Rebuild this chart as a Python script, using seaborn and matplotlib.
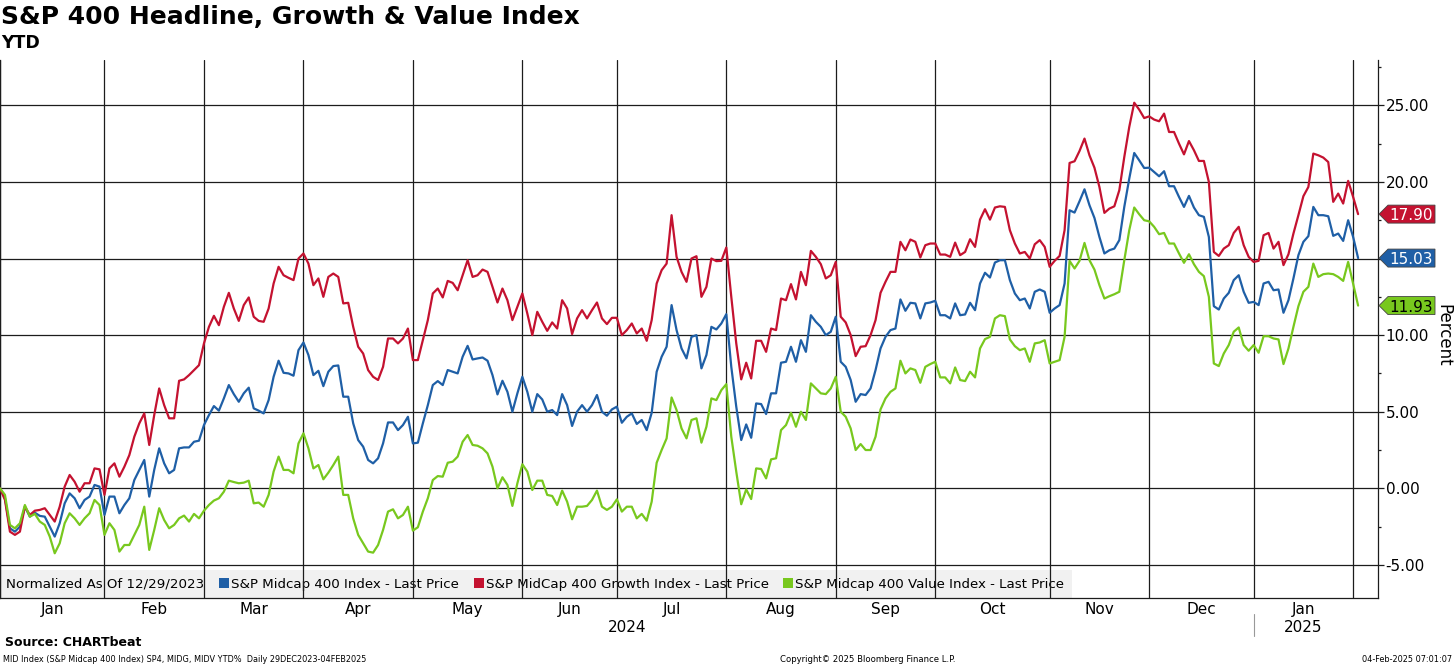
# -*- coding: utf-8 -*-
# S&P 400 headline / growth / value, YTD percent change (Bloomberg style chart)

import pandas as pd
import seaborn as sns
import matplotlib.pyplot as plt
from matplotlib.patches import Polygon, Rectangle
from matplotlib.transforms import IdentityTransform

# %% data (one value per trading day, 29 Dec 2023 - 3 Feb 2025)

holidays = ["2024-01-01", "2024-01-15", "2024-02-19", "2024-03-29", "2024-05-27",
            "2024-06-19", "2024-07-04", "2024-09-02", "2024-11-28", "2024-12-25",
            "2025-01-01", "2025-01-09", "2025-01-20"]

names = ["S&P Midcap 400 Index", "S&P MidCap 400 Growth Index", "S&P Midcap 400 Value Index"]
colors = ["#1f5fa6", "#c41230", "#78c81e"]

growth = [0.00, -0.76, -2.83, -3.04, -2.83, -1.20, -1.74, -1.46, -1.41, -1.30,
          -1.74, -2.17, -1.20, 0.11, 0.87, 0.43, -0.22, 0.33, 0.33, 1.30,
          1.24, -0.43, 1.30, 1.63, 0.76, 1.41, 2.17, 3.37, 4.24, 4.89,
          2.83, 4.78, 6.52, 5.43, 4.57, 4.57, 7.02, 7.11, 7.39, 7.72,
          8.04, 9.46, 10.54, 11.26, 10.65, 11.85, 12.76, 11.74, 10.93, 11.96,
          12.46, 11.20, 10.93, 10.87, 11.74, 13.37, 14.46, 13.91, 13.74, 13.59,
          15.00, 15.33, 14.67, 13.26, 13.70, 12.50, 13.80, 14.02, 13.80, 12.07,
          12.11, 10.54, 9.24, 8.80, 7.72, 7.28, 7.07, 7.93, 9.78, 9.78,
          9.46, 9.78, 10.43, 8.37, 8.37, 9.67, 10.98, 12.72, 13.04, 12.46,
          13.54, 13.41, 12.93, 13.91, 14.89, 13.80, 13.91, 14.28, 14.13, 13.15,
          12.13, 13.04, 12.28, 10.98, 11.85, 12.72, 11.41, 10.00, 11.52, 10.87,
          10.28, 10.83, 10.43, 12.28, 11.74, 10.07, 11.09, 11.63, 11.09, 11.63,
          12.13, 11.09, 10.72, 11.13, 11.13, 10.00, 10.33, 10.76, 10.11, 10.43,
          9.63, 10.98, 13.37, 14.24, 14.67, 17.83, 15.11, 14.13, 13.48, 15.00,
          15.15, 12.50, 13.15, 15.00, 14.83, 14.85, 15.72, 12.50, 9.46, 7.11,
          8.20, 7.17, 9.63, 9.63, 8.91, 10.43, 10.33, 12.39, 12.28, 13.33,
          12.33, 14.13, 13.26, 15.50, 15.11, 14.63, 13.70, 13.91, 14.78, 11.20,
          10.83, 10.00, 8.63, 9.24, 9.28, 10.00, 10.98, 12.76, 13.48, 14.13,
          14.13, 16.09, 15.54, 16.24, 16.09, 15.07, 15.87, 15.98, 15.98, 15.26,
          15.26, 15.11, 16.04, 15.22, 15.43, 16.26, 15.76, 17.54, 18.22, 17.54,
          18.33, 18.41, 18.37, 16.85, 15.98, 15.33, 15.43, 15.00, 15.93, 16.20,
          15.76, 14.46, 14.85, 15.17, 16.85, 21.24, 21.35, 22.02, 22.83, 21.74,
          20.93, 19.67, 17.98, 18.26, 18.41, 19.46, 21.63, 23.59, 25.17, 24.72,
          24.17, 24.28, 24.07, 23.96, 24.46, 23.26, 23.26, 22.50, 21.80, 22.67,
          22.07, 21.37, 21.37, 20.00, 15.43, 15.17, 15.65, 15.87, 16.67, 17.07,
          15.87, 15.11, 14.78, 14.85, 16.52, 16.67, 15.65, 16.09, 14.57, 15.28,
          16.63, 17.83, 19.07, 19.67, 21.85, 21.74, 21.59, 21.30, 18.70, 19.24,
          18.59, 20.07, 19.02, 17.90]

headline = [0.00, -0.65, -2.61, -2.83, -2.50, -1.20, -1.85, -1.59, -1.80, -1.85,
            -2.50, -3.15, -2.28, -0.98, -0.33, -0.65, -1.30, -0.76, -0.54, 0.22,
            0.11, -1.74, -0.54, -0.54, -1.63, -1.09, -0.65, 0.54, 1.20, 1.85,
            -0.54, 1.20, 2.61, 1.63, 0.98, 1.20, 2.61, 2.67, 2.67, 3.04,
            3.11, 4.13, 4.78, 5.37, 5.07, 5.87, 6.74, 6.15, 5.65, 6.20,
            6.57, 5.22, 5.07, 4.89, 5.76, 7.28, 8.33, 7.54, 7.50, 7.35,
            9.02, 9.52, 8.70, 7.39, 7.67, 6.67, 7.61, 7.98, 8.02, 5.98,
            5.98, 4.24, 3.15, 2.72, 1.85, 1.63, 1.96, 2.93, 4.30, 4.30,
            3.80, 4.13, 4.67, 2.93, 2.98, 4.24, 5.43, 6.74, 7.00, 6.74,
            7.72, 7.61, 7.50, 8.59, 9.30, 8.41, 8.48, 8.54, 8.33, 7.39,
            6.13, 7.02, 6.30, 5.00, 6.20, 7.28, 6.30, 5.00, 6.15, 5.80,
            5.00, 5.11, 4.78, 6.15, 5.43, 4.07, 5.00, 5.43, 5.00, 5.43,
            6.09, 5.00, 4.74, 5.15, 5.33, 4.28, 4.67, 4.89, 4.20, 4.46,
            3.80, 4.93, 7.61, 8.59, 9.24, 11.96, 10.33, 9.13, 8.48, 9.89,
            10.00, 7.83, 8.70, 10.54, 10.37, 10.76, 11.37, 7.93, 5.33, 3.15,
            4.17, 3.30, 5.54, 5.50, 4.85, 6.20, 6.20, 8.20, 8.26, 9.24,
            8.26, 9.67, 8.91, 11.30, 10.87, 10.54, 10.00, 10.22, 11.20, 8.26,
            7.93, 7.07, 5.65, 6.15, 6.09, 6.52, 7.72, 9.13, 9.89, 10.33,
            10.43, 12.33, 11.59, 12.11, 12.07, 11.09, 12.07, 12.13, 12.24, 11.30,
            11.30, 11.09, 12.07, 11.30, 11.35, 12.11, 11.63, 13.37, 14.07, 13.76,
            14.74, 14.89, 14.89, 13.59, 12.72, 12.28, 12.39, 11.74, 12.83, 12.98,
            12.83, 11.46, 11.74, 11.96, 13.37, 18.15, 18.00, 18.74, 19.52, 18.48,
            17.65, 16.41, 15.33, 15.54, 15.65, 16.20, 18.37, 20.22, 21.89, 21.41,
            20.91, 20.93, 20.65, 20.37, 20.70, 19.72, 19.72, 19.02, 18.37, 19.09,
            18.33, 17.83, 17.72, 16.41, 11.89, 11.67, 12.39, 12.76, 13.59, 13.91,
            12.83, 12.11, 12.17, 11.96, 13.37, 13.48, 12.93, 12.98, 11.46, 12.28,
            13.70, 15.22, 16.09, 16.46, 18.37, 17.83, 17.83, 17.76, 16.48, 16.63,
            16.15, 17.50, 16.41, 15.03]

value = [0.00, -0.43, -2.39, -2.61, -2.28, -1.09, -1.85, -1.67, -2.17, -2.39,
         -3.15, -4.24, -3.59, -2.28, -1.63, -1.96, -2.39, -1.96, -1.63, -0.76,
         -1.09, -3.04, -2.28, -2.72, -4.13, -3.70, -3.70, -3.04, -2.39, -1.20,
         -4.02, -2.72, -1.30, -2.07, -2.61, -2.39, -1.96, -1.78, -2.17, -1.67,
         -1.96, -1.46, -1.09, -0.80, -0.65, -0.22, 0.50, 0.41, 0.33, 0.37,
         0.50, -0.98, -0.93, -1.20, -0.43, 1.09, 2.07, 1.20, 1.20, 0.98,
         2.93, 3.59, 2.61, 1.30, 1.52, 0.59, 1.02, 1.52, 2.07, -0.43,
         -0.43, -1.96, -3.04, -3.59, -4.13, -4.20, -3.70, -2.72, -1.52, -1.37,
         -1.96, -1.74, -1.20, -2.76, -2.54, -1.52, -0.65, 0.54, 0.80, 0.76,
         1.67, 1.74, 2.07, 3.04, 3.48, 2.83, 2.78, 2.61, 2.28, 1.41,
         0.00, 0.72, 0.22, -1.15, 0.33, 1.57, 1.09, -0.11, 0.50, 0.50,
         -0.43, -0.50, -1.09, -0.15, -0.87, -2.02, -1.20, -1.20, -1.15, -0.76,
         -0.15, -1.20, -1.41, -1.20, -0.72, -1.52, -1.20, -1.20, -1.96, -1.67,
         -2.11, -0.87, 1.67, 2.50, 3.26, 5.93, 5.11, 3.91, 3.26, 4.46,
         4.57, 2.98, 4.02, 5.87, 5.76, 6.41, 6.80, 3.37, 1.09, -1.04,
         -0.07, -0.70, 1.30, 1.26, 0.65, 1.89, 1.96, 3.80, 4.13, 4.93,
         4.02, 5.00, 4.46, 6.85, 6.52, 6.20, 6.15, 6.52, 7.28, 5.00,
         4.67, 3.91, 2.50, 2.89, 2.50, 2.50, 3.37, 5.15, 5.87, 6.30,
         6.52, 8.33, 7.50, 7.83, 7.72, 6.89, 7.93, 8.11, 8.26, 7.24,
         7.24, 6.85, 7.89, 7.07, 7.00, 7.61, 7.24, 9.13, 9.74, 9.89,
         11.09, 11.30, 11.24, 9.72, 9.28, 9.02, 9.13, 8.26, 9.46, 9.52,
         9.67, 8.15, 8.26, 8.37, 9.89, 14.85, 14.35, 14.85, 16.02, 14.89,
         14.28, 13.26, 12.39, 12.54, 12.67, 12.83, 14.89, 16.85, 18.33, 17.89,
         17.50, 17.43, 17.07, 16.59, 16.67, 15.98, 15.98, 15.33, 14.72, 15.28,
         14.63, 14.13, 13.85, 12.50, 8.15, 7.98, 8.80, 9.35, 10.22, 10.50,
         9.35, 8.98, 9.35, 8.85, 9.93, 9.93, 9.78, 9.72, 8.11, 9.13,
         10.54, 11.89, 12.83, 13.15, 14.67, 13.80, 13.98, 14.02, 13.98, 13.80,
         13.54, 14.78, 13.37, 11.93]

y_ticks = [-5, 0, 5, 10, 15, 20, 25]
y_minor = [-2.5, 2.5, 7.5, 12.5, 17.5, 22.5, 27.5]

# %% trading calendar -> x positions

days = pd.bdate_range("2023-12-29", "2025-02-03")
days = days[~days.isin(pd.to_datetime(holidays))]

df = pd.DataFrame({"idx": list(range(len(days))) * 3,
                   "pct": headline + growth + value,
                   "series": [n for n in names for _ in range(len(days))]})

# last trading day of each month -> vertical gridlines
bounds = [i for i in range(len(days) - 1) if days[i].month != days[i + 1].month]
centers = [(a + b) / 2 for a, b in zip(bounds[:-1], bounds[1:])]
month_lbl = [days[b].strftime("%b") for b in bounds[1:]]

last_vals = [headline[-1], growth[-1], value[-1]]

# %% plot

sns.set_style("white")
plt.rcParams['font.family'] = ['DejaVu Sans']
plt.rcParams['text.color'] = 'black'
plt.rcParams['xtick.color'] = 'black'
plt.rcParams['ytick.color'] = 'black'

fig = plt.figure(figsize=(14.56, 6.65), dpi=100)
ax = fig.add_axes([0, 1 - 598 / 665, 1378 / 1456, 538 / 665])

sns.lineplot(data=df, x="idx", y="pct", hue="series", hue_order=names,
             palette=colors, linewidth=1.6, legend=False, errorbar=None,
             ax=ax, zorder=3)

ax.set_xlim(0, 277)
ax.set_ylim(-7.16, 27.96)
ax.set_xlabel("")
ax.set_ylabel("")

ax.set_xticks(bounds)
ax.set_xticklabels([])
ax.set_xticks(centers, minor=True)
ax.set_xticklabels(month_lbl, minor=True)
ax.tick_params(axis="x", which="both", length=0, labelsize=11, pad=3)

# tick labels sitting under a last-value tag are hidden, as in the original
ax.yaxis.tick_right()
ax.set_yticks(y_ticks)
ax.set_yticklabels(["" if min(abs(t - v) for v in last_vals) < 1 else f"{t:.2f}"
                    for t in y_ticks])
ax.set_yticks(y_minor, minor=True)
ax.tick_params(axis="y", which="major", length=4, width=0.9, labelsize=11,
               pad=1.5, color="#1c1c1c")
ax.tick_params(axis="y", which="minor", length=2.5, width=0.9, color="#1c1c1c")

ax.grid(True, which="major", color="#1c1c1c", linewidth=0.9)
ax.set_axisbelow(False)
for s in ["left", "bottom", "right"]:
    ax.spines[s].set_color("#1c1c1c")
    ax.spines[s].set_linewidth(0.9)
ax.spines["top"].set_visible(False)

# legend band along the bottom
handles = [Rectangle((0, 0), 1, 1, fc="none", ec="none")] + \
          [Rectangle((0, 0), 1, 1, fc=c, ec="none") for c in colors]
labels = ["Normalized As Of 12/29/2023"] + [n + " - Last Price" for n in names]
leg = ax.legend(handles, labels, loc="lower left", bbox_to_anchor=(-0.0095, 0), ncol=4,
                frameon=True, fancybox=False, borderaxespad=0, fontsize=9.6,
                handlelength=0.75, handleheight=0.75, handletextpad=0.15,
                columnspacing=1.1, borderpad=0.55)
leg.get_frame().set_facecolor("#eeeeee")
leg.get_frame().set_edgecolor("none")
leg.set_zorder(1)

# year labels under the months
xt = ax.get_xaxis_transform()
ax.text(bounds[-2] / 2, -0.054, "2024", transform=xt, ha="center", va="center", fontsize=11)
ax.text(centers[-1], -0.054, "2025", transform=xt, ha="center", va="center", fontsize=11)
ax.plot([bounds[-2], bounds[-2]], [-0.03, -0.07], transform=xt, clip_on=False,
        color="#999999", lw=0.8)

# last value tags on the right axis
def add_tag(v, face, txt):
    x0 = ax.transAxes.transform((1, 0))[0]
    y0 = ax.transData.transform((0, v))[1]
    pts = [(x0 + 1, y0), (x0 + 10, y0 + 9), (x0 + 57, y0 + 9),
           (x0 + 57, y0 - 9), (x0 + 10, y0 - 9)]
    fig.patches.append(Polygon(pts, closed=True, transform=IdentityTransform(),
                               facecolor=face, edgecolor="#444444", lw=0.6, zorder=5))
    fig.text(x0 + 33, y0, f"{v:.2f}", transform=IdentityTransform(), color=txt,
             ha="center", va="center_baseline", fontsize=11, zorder=6)

add_tag(growth[-1], colors[1], "white")
add_tag(headline[-1], colors[0], "white")
add_tag(value[-1], colors[2], "black")

fig.text(1443 / 1456, 1 - 335 / 665, "Percent", rotation=270, ha="center",
         va="center", fontsize=12)

# titles and footer
fig.text(0.001, 1 - 17 / 665, "S&P 400 Headline, Growth & Value Index",
         fontsize=18, fontweight="bold", va="center")
fig.text(0.001, 1 - 43 / 665, "YTD", fontsize=12.5, fontweight="bold", va="center")
fig.text(5 / 1456, 1 - 643 / 665, "Source: CHARTbeat", fontsize=9,
         fontweight="bold", va="center")
fig.text(3 / 1456, 1 - 659 / 665,
         "MID Index (S&P Midcap 400 Index) SP4, MIDG, MIDV YTD%  Daily 29DEC2023-04FEB2025",
         fontsize=5.9, va="center")
fig.text(868 / 1456, 1 - 659 / 665, "Copyright© 2025 Bloomberg Finance L.P.",
         fontsize=6.1, ha="center", va="center")
fig.text(1452 / 1456, 1 - 659 / 665, "04-Feb-2025 07:01:07", fontsize=5.9,
         ha="right", va="center")

fig.savefig("out.png", dpi=100)
